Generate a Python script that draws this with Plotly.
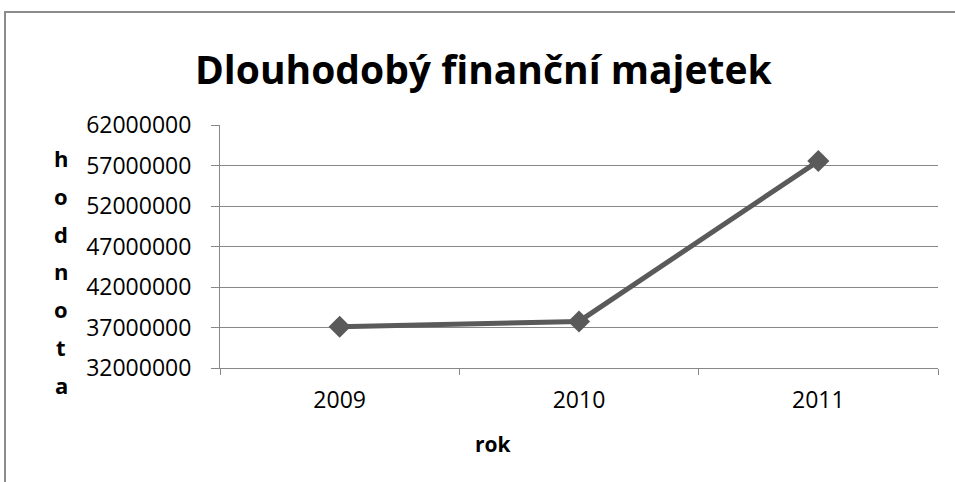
import plotly.graph_objects as go

years = ["2009", "2010", "2011"]
values = [37100000, 37750000, 57550000]
y_ticks = [32000000, 37000000, 42000000, 47000000, 52000000, 57000000, 62000000]
title_text = "Dlouhodobý finanční majetek"
y_title_letters = list("hodnota")
x_title = "rok"

W, H = 955, 482
L, R, T, B = 220, 17, 125, 114
pw, ph = W - L - R, H - T - B

def px_x(x):
    return (x - L) / pw

def px_y(y):
    return (H - B - y) / ph

font = "Open Sans"
line_color = "#5a5a5a"
grid = "#878787"

fig = go.Figure()
fig.add_trace(go.Scatter(
    x=years, y=values, mode="lines+markers",
    line=dict(color=line_color, width=5),
    marker=dict(symbol="diamond", size=17, color=line_color),
    showlegend=False, hoverinfo="skip",
))

annotations = [
    dict(text=f"<b>{title_text}</b>", x=px_x(483), y=px_y(68), xref="paper", yref="paper",
         showarrow=False, font=dict(family=font, size=39, color="#000"), xanchor="center", yanchor="middle"),
    dict(text=f"<b>{x_title}</b>", x=px_x(493), y=px_y(444), xref="paper", yref="paper",
         showarrow=False, font=dict(family=font, size=21, color="#000"), xanchor="center", yanchor="middle"),
]
y0, step = 158, 37.8
for i, ch in enumerate(y_title_letters):
    annotations.append(dict(text=f"<b>{ch}</b>", x=px_x(61), y=px_y(y0 + i * step),
                            xref="paper", yref="paper", showarrow=False,
                            font=dict(family=font, size=22, color="#000"),
                            xanchor="center", yanchor="middle"))

fig.update_layout(
    width=W, height=H,
    margin=dict(l=L, r=R, t=T, b=B, pad=0),
    paper_bgcolor="white", plot_bgcolor="white",
    annotations=annotations,
    shapes=[dict(type="rect", xref="paper", yref="paper",
                 x0=px_x(5), x1=px_x(975), y0=px_y(500), y1=px_y(12),
                 line=dict(color="#8c8c8c", width=2), layer="below")],
    xaxis=dict(type="category", range=[-0.5, 2.5], showgrid=False,
               showline=True, linecolor=grid, linewidth=1,
               ticks="outside", tickson="boundaries", ticklen=6, tickcolor=grid,
               tickfont=dict(family=font, size=23, color="#000"), ticklabelstandoff=11,
               fixedrange=True),
    yaxis=dict(range=[32000000, 62000000], tickvals=y_ticks, ticktext=[str(v) for v in y_ticks],
               showgrid=True, gridcolor=grid, gridwidth=1,
               showline=True, linecolor=grid, linewidth=1,
               ticks="outside", ticklen=8, tickcolor=grid,
               tickfont=dict(family=font, size=23, color="#000"), ticklabelstandoff=15,
               zeroline=False, fixedrange=True),
)

fig.write_html("out.html")
